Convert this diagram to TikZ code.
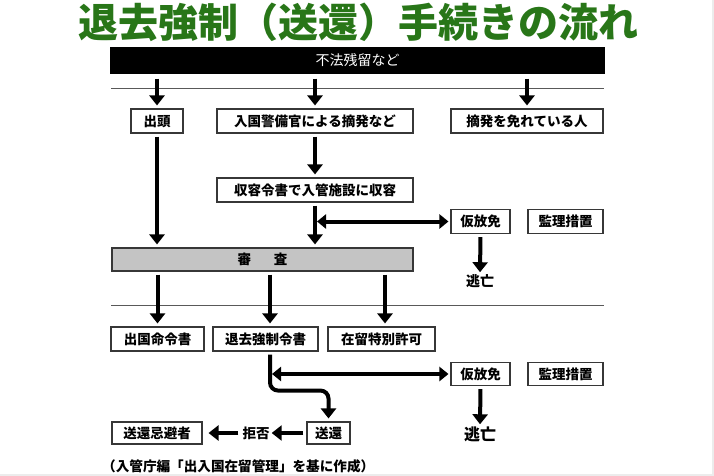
\documentclass[tikz,border=0pt]{standalone}
\usepackage{fontspec}
\setmainfont{Noto Sans CJK JP}
\usetikzlibrary{arrows.meta}
\definecolor{titlegreen}{RGB}{40,118,24}
\definecolor{boxline}{RGB}{55,55,55}
\definecolor{shinsagray}{RGB}{196,196,196}
\definecolor{edgegray}{RGB}{236,236,236}
\begin{document}
\begin{tikzpicture}[x=1pt,y=-1pt,
  box/.style={draw=boxline, line width=1.1pt, fill=white, inner sep=0pt,
    minimum height=24pt, font=\fontsize{13.5}{14}\selectfont\bfseries},
  lbl/.style={inner sep=0pt, font=\fontsize{14}{14}\selectfont\bfseries},
  arr/.style={draw=black, line width=4pt, -{Triangle[width=15pt,length=10pt]},
    shorten >=3pt, shorten <=3pt},
  dbl/.style={draw=black, line width=4pt,
    {Triangle[width=14pt,length=9pt]}-{Triangle[width=14pt,length=9pt]}},
  thinline/.style={draw=black!65, line width=1pt}
]
\useasboundingbox (0,0) rectangle (714,476);
\fill[edgegray] (0,474) rectangle (714,476);
\fill[edgegray] (712,0) rectangle (714,476);

% title
\node[inner sep=0pt, text=titlegreen, font=\fontsize{40}{40}\selectfont\bfseries]
  (title) at (358,22) {退去強制（送還）手続きの流れ};

% top bar
\node[box, minimum width=493pt, minimum height=25pt, fill=black, draw=black,
  text=white, font=\fontsize{14}{14}\selectfont] (bar) at (357.5,60.5) {不法残留など};
\coordinate (l1a) at (111,89);
\coordinate (l1b) at (604,89);
\draw[thinline] (l1a) -- (l1b);

% row 1
\node[box, minimum width=52pt] (shutto) at (157,121) {出頭};
\node[box, minimum width=196pt] (tekihatsu) at (315,121) {入国警備官による摘発など};
\node[box, minimum width=152pt] (manuka) at (527,121) {摘発を免れている人};

\draw[arr, shorten <=5pt] (bar.south -| shutto.north) -- (shutto.north);
\draw[arr, shorten <=5pt] (bar.south -| tekihatsu.north) -- (tekihatsu.north);
\draw[arr, shorten <=5pt] (bar.south -| manuka.north) -- (manuka.north);

% detention
\node[box, minimum width=196pt] (shuyo) at (315,190) {収容令書で入管施設に収容};
\draw[arr] (tekihatsu.south) -- (shuyo.north);

\node[box, minimum width=59pt] (kari1) at (480.5,221.5) {仮放免};
\node[box, minimum width=75pt] (kanri1) at (565.5,221.5) {監理措置};
\node[lbl] (tobo1) at (480,281) {逃亡};

% examination bar
\node[box, minimum width=301pt, minimum height=23pt, fill=shinsagray]
  (shinsa) at (262.5,259.5) {審\hspace{23pt}査};

\draw[arr] (shutto.south) -- (shutto.south |- shinsa.north);
\draw[arr] (shuyo.south) -- (shuyo.south |- shinsa.north);
\coordinate (j1) at ([xshift=2pt]shuyo.south |- kari1.west);
\draw[dbl, shorten >=2pt] (j1) -- (kari1.west);
\draw[arr, shorten >=2pt] (kari1.south) -- (tobo1.north);

% second line
\coordinate (l2a) at (111,305);
\coordinate (l2b) at (604,305);
\draw[thinline] (l2a) -- (l2b);

% row 3
\node[box, minimum width=93pt] (shukkoku) at (157.5,339) {出国命令書};
\node[box, minimum width=105pt] (taikyo) at (265.5,339) {退去強制令書};
\node[box, minimum width=107pt] (zairyu) at (381.5,339) {在留特別許可};

\coordinate (t3) at ([xshift=4.5pt]taikyo.north);
\coordinate (z3) at ([xshift=3.5pt]zairyu.north);
\draw[arr] (shinsa.south -| shukkoku.north) -- (shukkoku.north);
\draw[arr] (shinsa.south -| t3) -- (t3);
\draw[arr] (shinsa.south -| z3) -- (z3);

\node[box, minimum width=59pt, minimum height=23pt] (kari2) at (480.5,374) {仮放免};
\node[box, minimum width=75pt, minimum height=23pt] (kanri2) at (565.5,374) {監理措置};
\node[lbl, font=\fontsize{16}{16}\selectfont\bfseries] (tobo2) at (480,434) {逃亡};

\node[box, minimum width=43pt, minimum height=22pt] (soukan) at (328.5,433) {送還};
\node[box, minimum width=90pt, minimum height=22pt] (kihi) at (157,433) {送還忌避者};
\node[lbl, font=\fontsize{13.5}{14}\selectfont\bfseries] (kyohi) at (256,433) {拒否};

\coordinate (t4) at ([xshift=4.5pt]taikyo.south);
\draw[arr, rounded corners=8pt] (t4) -- ++(0,39) -| (soukan.north);
\coordinate (j2) at ([xshift=2pt]t4 |- kari2.west);
\draw[dbl, shorten >=2pt] (j2) -- (kari2.west);
\draw[arr, shorten >=2pt] (kari2.south) -- (tobo2.north);

\draw[arr, shorten <=3pt, shorten >=2pt] (soukan.west) -- (kyohi.east);
\draw[arr, shorten <=4pt, shorten >=6pt] (kyohi.west) -- (kihi.east);

% caption
\node[anchor=west, inner sep=0pt, font=\fontsize{13.6}{14}\selectfont\bfseries]
  (caption) at (102,466) {（入管庁編「出入国在留管理」を基に作成）};
\end{tikzpicture}
\end{document}
